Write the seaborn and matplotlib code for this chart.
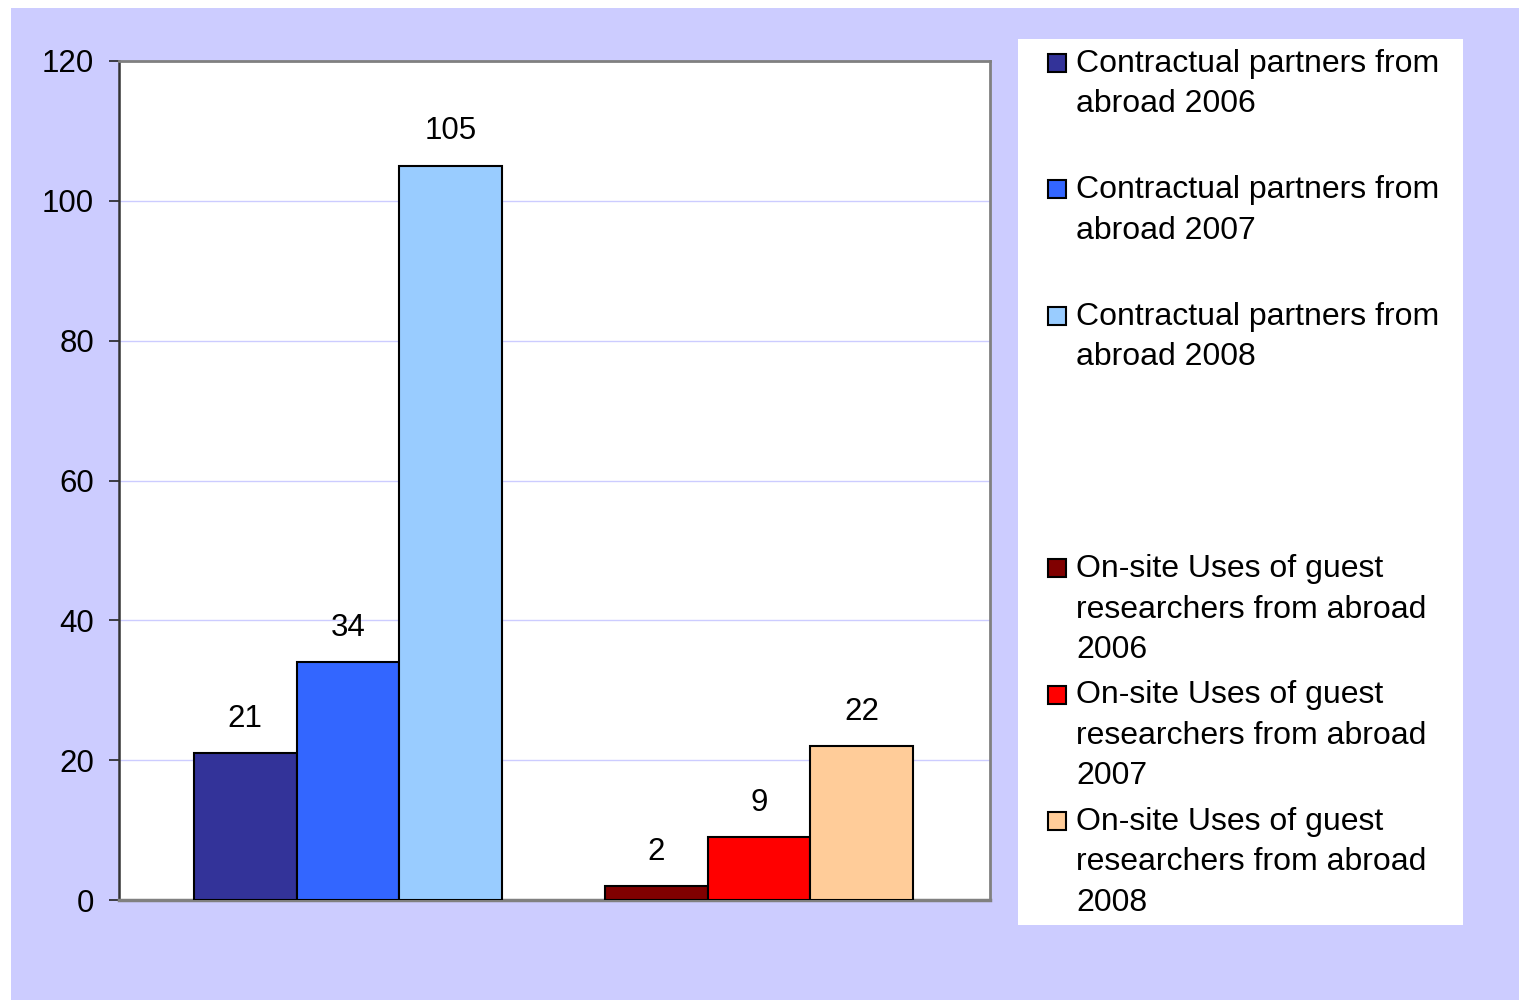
import matplotlib
matplotlib.use("Agg")
import matplotlib.pyplot as plt
import seaborn as sns
import pandas as pd
from matplotlib.patches import Rectangle

# ---- data ----
groups = ["Contractual partners from abroad", "On-site Uses of guest researchers from abroad"]
years = ["2006", "2007", "2008"]
contractual_values = [21, 34, 105]
onsite_values = [2, 9, 22]
contractual_colors = ["#333399", "#3366FF", "#99CCFF"]
onsite_colors = ["#800000", "#FF0000", "#FFCC99"]
legend_labels = [
    "Contractual partners from\nabroad 2006",
    "Contractual partners from\nabroad 2007",
    "Contractual partners from\nabroad 2008",
    "On-site Uses of guest\nresearchers from abroad\n2006",
    "On-site Uses of guest\nresearchers from abroad\n2007",
    "On-site Uses of guest\nresearchers from abroad\n2008",
]
yticks = [0, 20, 40, 60, 80, 100, 120]

df = pd.DataFrame({
    "group": [groups[0]] * 3 + [groups[1]] * 3,
    "year": years + years,
    "value": contractual_values + onsite_values,
})

sns.set_theme(style="white")
plt.rcParams["font.family"] = ["Liberation Sans", "DejaVu Sans"]

W, H = 1519, 1000
fig = plt.figure(figsize=(W / 100, H / 100), dpi=100)
fig.patch.set_facecolor("white")
# lavender background panel
fig.patches.append(Rectangle((11 / W, 0), 1 - 11 / W, 1 - 8 / H, transform=fig.transFigure,
                             facecolor="#CCCCFF", edgecolor="none", zorder=-10))

def px(x, y):
    return x / W, 1 - y / H

ax = fig.add_axes([119 / W, 1 - 900 / H, (990 - 119) / W, (900 - 61) / H])
ax.set_facecolor("white")

sns.barplot(data=df, x="group", y="value", hue="year", hue_order=years,
            width=0.75, edgecolor="black", linewidth=1.5, ax=ax, legend=False,
            errorbar=None, zorder=3)

for i, cont in enumerate(ax.containers):
    cont[0].set_facecolor(contractual_colors[i])
    cont[1].set_facecolor(onsite_colors[i])
    ax.bar_label(cont, labels=[str(int(round(b.get_height()))) for b in cont],
                 padding=14, fontsize=22.5, color="black")

ax.set_xlim(-0.557, 1.562)
ax.set_ylim(0, 120)
ax.set_yticks(yticks)
ax.set_yticklabels([str(t) for t in yticks], fontsize=22.5)
ax.set_xticks([])
ax.set_xlabel("")
ax.set_ylabel("")
ax.yaxis.grid(True, color="#CCCCFF", linewidth=1, zorder=0)
ax.set_axisbelow(True)
ax.tick_params(axis="y", direction="out", length=7, width=1.2, color="#222222",
               pad=11, left=True, labelcolor="black")

for side in ["top", "right"]:
    ax.spines[side].set_color("#808080")
    ax.spines[side].set_linewidth(2)
ax.spines["bottom"].set_color("#808080")
ax.spines["bottom"].set_linewidth(2.5)
ax.spines["left"].set_color("#333333")
ax.spines["left"].set_linewidth(1.8)
for s in ax.spines.values():
    s.set_visible(True)

# ---- legend box (manual) ----
x0, y0 = px(1018, 925)
fig.patches.append(Rectangle((x0, y0), (1463 - 1018) / W, (925 - 39) / H,
                             transform=fig.transFigure, facecolor="white",
                             edgecolor="none", zorder=1))
all_colors = contractual_colors + onsite_colors
slots = [0, 1, 2, 4, 5, 6]
for label, color, slot in zip(legend_labels, all_colors, slots):
    yc = 60 + 126.3 * slot
    hx, hy = px(1048, yc + 12)
    fig.patches.append(Rectangle((hx, hy), 18 / W, 18 / H, transform=fig.transFigure,
                                 facecolor=color, edgecolor="black", linewidth=1.5, zorder=2))
    for k, line in enumerate(label.split("\n")):
        tx, ty = px(1076, yc + 40.5 * k + 12)
        fig.text(tx, ty, line, fontsize=23, va="baseline", ha="left", color="black", zorder=3)

fig.savefig("out.png", dpi=100, facecolor=fig.get_facecolor())
